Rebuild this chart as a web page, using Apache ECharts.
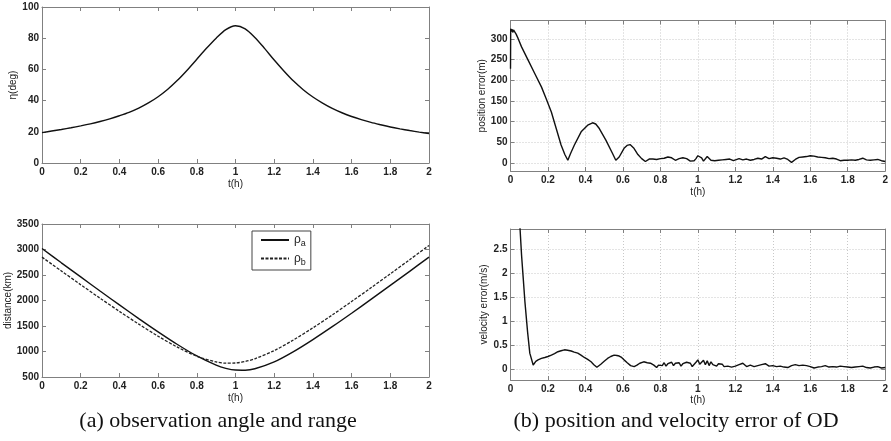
<!DOCTYPE html>
<html>
<head>
<meta charset="utf-8">
<script src="https://cdn.jsdelivr.net/npm/echarts@6/dist/echarts.min.js"></script>
<style>html,body{margin:0;padding:0;background:#fff;}#c{width:891px;height:441px;}</style>
</head>
<body>
<div id="c"></div>
<script>
// ---------- data ----------
const xTicks = [0, 0.2, 0.4, 0.6, 0.8, 1, 1.2, 1.4, 1.6, 1.8, 2];

const tEta = [0,0.05,0.1,0.15,0.2,0.25,0.3,0.35,0.4,0.45,0.5,0.55,0.6,0.65,0.7,0.75,0.8,0.85,0.9,0.95,1.0,
              1.05,1.1,1.15,1.2,1.25,1.3,1.35,1.4,1.45,1.5,1.55,1.6,1.65,1.7,1.75,1.8,1.85,1.9,1.95,2.0];
const eta = [19.5,20.5,21.5,22.6,23.8,25.1,26.6,28.3,30.3,32.5,35.2,38.5,42.5,47.3,53,59.5,66.5,73.5,80,85.5,88,
             86,80.5,73.5,66,59,52.5,47,42.3,38.4,35,32.2,29.8,27.8,26,24.5,23.1,21.9,20.8,19.8,18.9];

const tRho = [0,0.1,0.2,0.3,0.4,0.5,0.6,0.7,0.8,0.9,0.95,1.0,1.05,1.1,1.2,1.3,1.4,1.5,1.6,1.7,1.8,1.9,2.0];
const rhoA = [3020,2739,2462,2186,1913,1645,1385,1137,912,732,670,636,633,661,796,998,1234,1487,1751,2022,2296,2572,2851];
const rhoB = [2850,2579,2310,2045,1787,1537,1300,1085,908,795,772,775,804,857,1018,1227,1464,1716,1980,2249,2523,2800,3080];

const tPos = [0,0.001,0.004,0.008,0.012,0.016,0.02,0.025,0.03,0.041,0.059,0.094,0.13,0.165,0.19,0.218,0.244,0.27,0.29,0.306,
              0.32,0.341,0.377,0.412,0.438,0.455,0.474,0.509,0.544,0.562,0.58,0.606,0.622,0.638,0.659,0.68,0.70,
              0.72,0.73,0.74,0.75,0.76,0.77,0.78,0.79,0.80,0.81,0.82,0.83,0.84,0.85,0.86,0.87,0.88,0.89,0.90,0.91,0.92,0.93,0.94,0.95,
              0.96,0.97,0.98,0.99,1.00,1.01,1.02,1.03,1.04,1.05,1.06,1.07,1.08,1.09,1.10,1.11,1.12,1.13,1.14,1.15,1.16,1.17,1.18,1.19,1.20,
              1.22,1.24,1.26,1.28,1.30,1.32,1.34,1.36,1.38,1.40,1.42,1.44,1.46,1.48,1.50,1.52,1.54,1.56,1.58,1.60,1.62,1.64,1.66,1.68,1.70,
              1.72,1.74,1.76,1.78,1.80,1.82,1.84,1.86,1.88,1.90,1.92,1.94,1.96,1.98,2.00];
const posErr = [228,325,318,324,316,322,318,322,312,301,281,249,216,184,156,123,83,43,20,6,
                22,43,75,91,97,94,83,55,23,6,14,35,42,44,35,20,10,
                3,6,9,7,9,6,8,7,10,8,11,9,14,18,12,8,6,9,10,8,12,14,10,6,
                4,3,5,10,17,21,12,4,8,15,13,6,9,5,8,6,9,7,5,8,6,9,7,5,8,
                10,7,9,6,8,11,9,15,10,12,11,9,12,8,1,8,13,14,15,17,16,14,13,12,10,
                11,9,5,6,6,7,6,8,11,7,6,7,8,5,3];

const tVel = [0.044,0.059,0.068,0.077,0.091,0.103,0.121,0.135,0.147,0.165,0.183,0.2,0.218,0.235,0.253,0.27,0.288,0.305,0.324,0.34,0.359,
              0.376,0.394,0.412,0.43,0.445,0.461,0.482,0.5,0.518,0.535,0.553,0.568,0.58,0.593,0.606,0.623,0.641,0.66,0.675,0.69,0.711,0.73,0.747,0.765,
              0.78,0.79,0.80,0.81,0.82,0.83,0.84,0.85,0.86,0.87,0.88,0.89,0.90,0.91,0.92,0.93,0.94,0.95,0.96,0.97,0.98,0.99,
              1.00,1.01,1.02,1.03,1.04,1.05,1.06,1.07,1.08,1.09,1.10,1.11,1.12,1.13,1.14,1.15,1.16,1.17,1.18,1.19,1.20,
              1.22,1.24,1.26,1.28,1.30,1.32,1.34,1.36,1.38,1.40,1.42,1.44,1.46,1.48,1.50,1.52,1.54,1.56,1.58,1.60,
              1.62,1.64,1.66,1.68,1.70,1.72,1.74,1.76,1.78,1.80,1.82,1.84,1.86,1.88,1.90,1.92,1.94,1.96,1.98,2.00];
const velErr = [3.4,2.375,1.89,1.40,0.78,0.33,0.083,0.16,0.19,0.22,0.24,0.26,0.29,0.32,0.36,0.38,0.40,0.39,0.375,0.35,0.33,
                0.29,0.24,0.2,0.15,0.09,0.035,0.1,0.16,0.22,0.26,0.29,0.28,0.27,0.24,0.19,0.13,0.07,0.05,0.08,0.12,0.15,0.13,0.12,0.08,
                0.03,0.08,0.12,0.07,0.13,0.06,0.11,0.08,0.14,0.07,0.12,0.09,0.13,0.06,0.11,0.08,0.14,0.10,0.12,0.05,0.09,0.14,
                0.19,0.10,0.07,0.18,0.09,0.17,0.07,0.15,0.09,0.12,0.06,0.11,0.08,0.10,0.05,0.09,0.06,0.10,0.04,0.08,0.06,
                0.09,0.12,0.05,0.08,0.05,0.07,0.09,0.11,0.06,0.07,0.05,0.06,0.04,0.03,0.07,0.09,0.07,0.08,0.07,0.05,
                0.02,0.04,0.05,0.07,0.04,0.05,0.04,0.06,0.05,0.04,0.03,0.04,0.05,0.06,0.03,0.02,0.04,0.05,0.02,0.03];

const posTicks = [0,50,100,150,200,250,300];
const velTicks = [0,0.5,1,1.5,2,2.5];

// ---------- helpers ----------
const FONT = '"Liberation Sans", Arial, sans-serif';
const pairs = (t, v) => t.map((x, i) => [x, v[i]]);
const boxLine = {show: true, onZero: false, lineStyle: {color: '#808080', width: 1}};
const tick = {show: true, inside: true, length: 4, lineStyle: {color: '#808080'}};
const gridLine = {show: true, lineStyle: {color: '#c8c8c8', type: [1, 2], width: 1}};
const tickLabel = {fontSize: 10, color: '#222', fontWeight: 'bold', fontFamily: FONT, formatter: v => String(v)};
const nameStyle = {fontSize: 10, color: '#222', fontFamily: FONT};

function xB(gi, gap, grid) {
  return {type: 'value', gridIndex: gi, min: 0, max: 2, interval: 0.2, name: 't(h)', nameLocation: 'middle',
    nameGap: gap, nameTextStyle: nameStyle, axisLine: boxLine, axisTick: tick,
    axisLabel: Object.assign({margin: 4}, tickLabel), splitLine: grid ? gridLine : {show: false}};
}
function xT(gi) {
  return {type: 'value', gridIndex: gi, position: 'top', min: 0, max: 2, interval: 0.2,
    axisLine: boxLine, axisTick: tick, axisLabel: {show: false}, splitLine: {show: false}};
}
function yL(gi, name, gap, min, max, interval, custom, grid) {
  const ax = {type: 'value', gridIndex: gi, min, max, name, nameLocation: 'middle', nameGap: gap,
    nameTextStyle: nameStyle, axisLine: boxLine, axisTick: Object.assign({}, tick),
    axisLabel: Object.assign({margin: 3}, tickLabel), splitLine: grid ? gridLine : {show: false}};
  if (custom) { ax.axisLabel.customValues = custom; ax.axisTick.customValues = custom; }
  else ax.interval = interval;
  return ax;
}
function yR(gi, min, max, interval, custom) {
  const ax = {type: 'value', gridIndex: gi, position: 'right', min, max, axisLine: boxLine,
    axisTick: Object.assign({}, tick), axisLabel: {show: false}, splitLine: {show: false}};
  if (custom) { ax.axisLabel.customValues = custom; ax.axisTick.customValues = custom; }
  else ax.interval = interval;
  return ax;
}
const lineS = (name, gi, data, extra) => Object.assign({
  type: 'line', name, xAxisIndex: gi, yAxisIndex: gi, data, symbol: 'none', showSymbol: false,
  lineStyle: {color: '#111', width: 1.4}, itemStyle: {color: '#111'}, clip: true, animation: false
}, extra || {});

const chart = echarts.init(document.getElementById('c'), null, {renderer: 'canvas'});
chart.setOption({
  animation: false,
  backgroundColor: '#fff',
  grid: [
    {left: 42, top: 7, width: 387, height: 156},
    {left: 42, top: 224, width: 387, height: 153},
    {left: 510.5, top: 20.5, width: 378, height: 150.5},
    {left: 510.5, top: 229, width: 378, height: 151}
  ],
  xAxis: [xB(0, 16), xB(1, 16), xB(2, 16, true), xB(3, 15, true), xT(0), xT(1), xT(2), xT(3)],
  yAxis: [
    yL(0, 'η(deg)', 20, 0, 100, 20),
    yL(1, 'distance(km)', 25, 500, 3500, 500),
    yL(2, 'position error(m)', 22, -20, 345, null, posTicks, true),
    yL(3, 'velocity error(m/s)', 20, -0.23, 2.92, null, velTicks, true),
    yR(0, 0, 100, 20), yR(1, 500, 3500, 500), yR(2, -20, 345, null, posTicks), yR(3, -0.23, 2.92, null, velTicks)
  ],
  legend: {
    left: 252, top: 231, orient: 'vertical', backgroundColor: '#fff', borderColor: '#444', borderWidth: 1,
    padding: [3, 5, 3, 8], itemWidth: 28, itemHeight: 8, itemGap: 4, itemStyle: {opacity: 0},
    data: ['ρa', 'ρb'],
    formatter: n => '{r|ρ}{s|' + n.slice(1) + '}',
    textStyle: {color: '#222', rich: {r: {fontSize: 12, fontFamily: FONT, color: '#222'},
                                      s: {fontSize: 9, fontFamily: FONT, color: '#222', padding: [8, 0, 0, 0]}}}
  },
  series: [
    lineS('eta', 0, pairs(tEta, eta), {smooth: 0.3}),
    lineS('ρa', 1, pairs(tRho, rhoA), {smooth: 0.3}),
    lineS('ρb', 1, pairs(tRho, rhoB), {smooth: 0.3, lineStyle: {color: '#222', width: 1.3, type: [3, 1.5]}}),
    lineS('pos', 2, pairs(tPos, posErr)),
    lineS('vel', 3, pairs(tVel, velErr))
  ],
  graphic: [
    {type: 'text', x: 218, y: 421, style: {text: '(a) observation angle and range', align: 'center', verticalAlign: 'middle',
      fontSize: 22, fontFamily: '"Liberation Serif", "Times New Roman", serif', fill: '#111'}},
    {type: 'text', x: 676, y: 421, style: {text: '(b) position and velocity error of OD', align: 'center', verticalAlign: 'middle',
      fontSize: 22, fontFamily: '"Liberation Serif", "Times New Roman", serif', fill: '#111'}}
  ]
});
</script>
</body>
</html>
